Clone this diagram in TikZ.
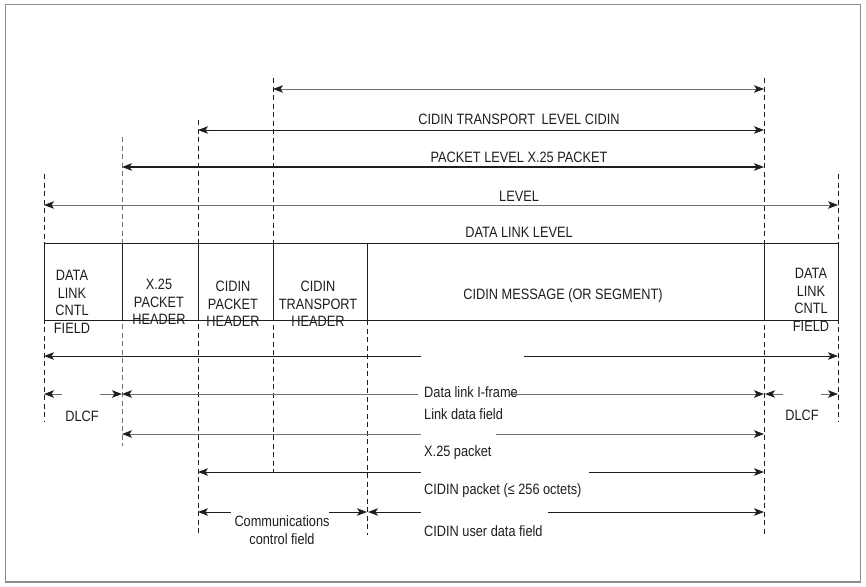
\documentclass[tikz,border=0pt]{standalone}
\usepackage{fontspec}
\setmainfont{Liberation Sans}[FakeStretch=0.85]
\usetikzlibrary{arrows.meta}
\definecolor{ink}{HTML}{1E1E1E}
\definecolor{lgray}{HTML}{707070}
\definecolor{framec}{HTML}{8C8C8C}
\begin{document}
\begin{tikzpicture}[x=1pt,y=-1pt,
  font=\fontsize{15}{17.5}\selectfont,
  >={Stealth[length=10pt,width=7.5pt,inset=2.5pt,color=ink]},
  guide/.style={ink, line width=0.9pt, dash pattern=on 5pt off 3.5pt},
  lguide/.style={guide, draw=lgray},
  dim/.style={ink, line width=1pt},
  ldim/.style={lgray, line width=1pt},
  cell/.style={draw=ink, fill=white, line width=1pt, inner sep=0pt, outer sep=0pt,
    minimum height=77pt, anchor=north west},
  lbl/.style={inner sep=0pt, text=ink},
  mlbl/.style={lbl, align=center}]
\useasboundingbox (0,0) rectangle (866,586);
\draw[framec, line width=1.3pt] (5.5,4.5) rectangle (860.5,582);

% vertical guide lines
\coordinate (g1t) at (44,174);  \coordinate (g1b) at (44,421);
\coordinate (g2t) at (122,137); \coordinate (g2b) at (122,446);
\coordinate (g3t) at (198,120); \coordinate (g3b) at (198,535);
\coordinate (g4t) at (273,78);  \coordinate (g4b) at (273,473);
\coordinate (g5t) at (367,320); \coordinate (g5b) at (367,535);
\coordinate (g6t) at (764,78);  \coordinate (g6b) at (764,535);
\coordinate (g7t) at (838,174); \coordinate (g7b) at (838,421);
\draw[guide] (g1t) -- (g1b);
\draw[lguide] (g2t) -- (g2b);
\draw[guide] (g3t) -- (g3b);
\draw[guide] (g4t) -- (g4b);
\draw[guide] (g5t) -- (g5b);
\draw[guide] (g6t) -- (g6b);
\draw[guide] (g7t) -- (g7b);

% frame cells
\node[cell, minimum width=78pt]  (c1) at (44,243) {};
\node[cell, minimum width=76pt]  (c2) at (122,243) {};
\node[cell, minimum width=75pt]  (c3) at (198,243) {};
\node[cell, minimum width=94pt]  (c4) at (273,243) {};
\node[cell, minimum width=397pt] (c5) at (367,243) {};
\node[cell, minimum width=74pt]  (c6) at (764,243) {};

\node[mlbl] (t1) at (72,302) {DATA\\LINK\\CNTL\\FIELD};
\node[mlbl] (t2) at (159,302) {X.25\\PACKET\\HEADER};
\node[mlbl] (t3) at (233,304) {CIDIN\\PACKET\\HEADER};
\node[mlbl] (t4) at (318,304) {CIDIN\\TRANSPORT\\HEADER};
\node[lbl]  (t5) at (563,296) {CIDIN MESSAGE (OR SEGMENT)};
\node[mlbl] (t6) at (811,300) {DATA\\LINK\\CNTL\\FIELD};

% upper level arrows
\coordinate (u1l) at (273,89);  \coordinate (u1r) at (764,89);
\coordinate (u2l) at (198,130); \coordinate (u2r) at (764,130);
\coordinate (u3l) at (122,167); \coordinate (u3r) at (764,167);
\coordinate (u4l) at (44,205);  \coordinate (u4r) at (838,205);
\draw[ldim, <->] (u1l) -- (u1r);
\draw[dim, <->] (u2l) -- (u2r);
\draw[dim, line width=1.6pt, <->] (u3l) -- (u3r);
\draw[ldim, <->] (u4l) -- (u4r);
\node[lbl] (l1) at (519,119) {CIDIN TRANSPORT\hspace{3pt} LEVEL CIDIN};
\node[lbl] (l2) at (519,157) {PACKET LEVEL X.25 PACKET};
\node[lbl] (l3) at (519,196) {LEVEL};
\node[lbl] (l4) at (519,232) {DATA LINK LEVEL};

% lower arrows
\coordinate (d1l) at (44,356);  \coordinate (d1m) at (421,356);
\coordinate (d1n) at (524,356); \coordinate (d1r) at (838,356);
\draw[dim, <-] (d1l) -- (d1m);
\draw[dim, ->] (d1n) -- (d1r);

\coordinate (e1l) at (44,394);  \coordinate (e1m) at (62,394);
\coordinate (e1n) at (100,394); \coordinate (e1r) at (122,394);
\draw[ldim, <-] (e1l) -- (e1m);
\draw[ldim, ->] (e1n) -- (e1r);
\coordinate (e2l) at (122,394); \coordinate (e2m) at (418,394);
\coordinate (e2n) at (510,394); \coordinate (e2r) at (764,394);
\draw[ldim, <-] (e2l) -- (e2m);
\draw[ldim, ->] (e2n) -- (e2r);
\coordinate (e3l) at (765,394); \coordinate (e3m) at (783,394);
\coordinate (e3n) at (821,394); \coordinate (e3r) at (838,394);
\draw[ldim, <-] (e3l) -- (e3m);
\draw[ldim, ->] (e3n) -- (e3r);

\coordinate (f1l) at (122,434); \coordinate (f1m) at (421,434);
\coordinate (f1n) at (496,434); \coordinate (f1r) at (764,434);
\draw[ldim, <-] (f1l) -- (f1m);
\draw[ldim, ->] (f1n) -- (f1r);

\coordinate (h1l) at (198,472); \coordinate (h1m) at (421,472);
\coordinate (h1n) at (589,472); \coordinate (h1r) at (764,472);
\draw[dim, <-] (h1l) -- (h1m);
\draw[dim, ->] (h1n) -- (h1r);

\coordinate (k1l) at (198,512); \coordinate (k1m) at (231,512);
\coordinate (k1n) at (329,512); \coordinate (k1r) at (367,512);
\draw[dim, <-] (k1l) -- (k1m);
\draw[dim, ->] (k1n) -- (k1r);
\coordinate (k2l) at (368,512); \coordinate (k2m) at (421,512);
\coordinate (k2n) at (548,512); \coordinate (k2r) at (764,512);
\draw[dim, <-] (k2l) -- (k2m);
\draw[dim, ->] (k2n) -- (k2r);

% lower labels
\node[lbl, anchor=west] (b1) at (424,392) {Data link I-frame};
\node[lbl, anchor=west] (b2) at (424,414) {Link data field};
\node[lbl, anchor=west] (b3) at (424,453) {X.25 packet};
\node[lbl, anchor=west] (b4) at (424,491) {CIDIN packet (≤ 256 octets)};
\node[lbl, anchor=west] (b5) at (424,531) {CIDIN user data field};
\node[lbl] (b6) at (82,416) {DLCF};
\node[lbl] (b7) at (802,415) {DLCF};
\node[mlbl] (b8) at (282,530) {Communications\\control field};
\end{tikzpicture}
\end{document}
